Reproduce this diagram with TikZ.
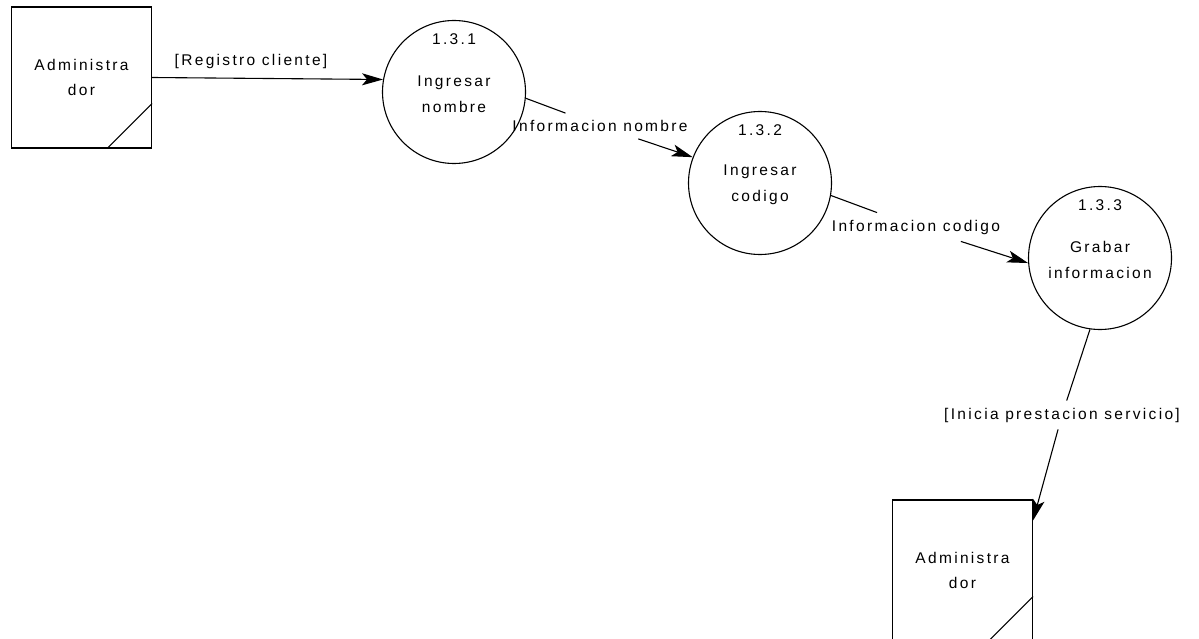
\documentclass[tikz,border=0pt]{standalone}
\usepackage{fontspec}
\setmainfont{Liberation Sans}[LetterSpace=15]
\usetikzlibrary{arrows.meta,calc}
\begin{document}
\begin{tikzpicture}[x=1pt,y=-1pt,
  every node/.style={font=\fontsize{15.5}{25.5}\selectfont},
  store/.style={draw,line width=1.1pt,minimum width=140pt,minimum height=141pt,inner sep=0pt,align=center},
  proc/.style={draw,circle,line width=1.1pt,minimum size=143pt,inner sep=0pt},
  txt/.style={inner sep=0pt,align=center},
  flowlabel/.style={inner xsep=2pt,inner ysep=7pt},
  flow/.style={line width=1.1pt},
  arrowflow/.style={flow,-{Stealth[length=21pt,width=12pt,inset=5pt]}}
]
\useasboundingbox (0,0) rectangle (1199,639);
\clip (0,0) rectangle (1199,639);

% external entities (stores with a folded corner)
\node[store] (a1) at (81.5,77.5) {Administra\\dor};
\draw[flow] ($(a1.south east)+(0,-45)$) -- ($(a1.south east)+(-45,0)$);
\node[store] (a2) at (962.5,570.5) {Administra\\dor};
\draw[flow] ($(a2.south east)+(0,-45)$) -- ($(a2.south east)+(-45,0)$);

% processes
\node[proc] (c1) at (454,92) {};
\node[txt] (n1) at ($(c1.north)+(0,19)$) {1.3.1};
\node[txt] (t1) at ($(c1.center)+(0,2)$) {Ingresar\\nombre};

\node[proc] (c2) at (760,183) {};
\node[txt] (n2) at ($(c2.north)+(0,19)$) {1.3.2};
\node[txt] (t2) at ($(c2.center)+(0,2)$) {Ingresar\\codigo};

\node[proc] (c3) at (1100,258) {};
\node[txt] (n3) at ($(c3.north)+(0,19)$) {1.3.3};
\node[txt] (t3) at ($(c3.center)+(0,2)$) {Grabar\\informacion};

% data flows
\draw[arrowflow] (a1.east) -- (c1.170);
\node[txt] (l1) at (251,61) {[Registro cliente]};

\node[flowlabel] (l2) at (600,126) {Informacion nombre};
\draw[flow] (c1.-5.6) -- (l2);
\draw[arrowflow] (l2) -- (c2.159.5);

\node[flowlabel] (l3) at (916,227) {Informacion codigo};
\draw[flow] (c2.-10.4) -- (l3);
\draw[arrowflow] (l3) -- (c3.-176);

\coordinate (a2in) at ($(a2.north east)+(0,21)$);
\node[flowlabel] (l4) at (1062,415) {[Inicia prestacion servicio]};
\draw[flow] (c3.-98.6) -- (l4);
\draw[arrowflow] (l4) -- (a2in);
\end{tikzpicture}
\end{document}
